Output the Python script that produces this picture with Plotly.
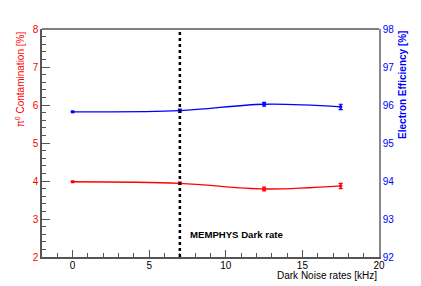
import plotly.graph_objects as go

rates = [0, 7, 12.5, 17.5]
pi0_contam = [3.98, 3.94, 3.79, 3.87]
pi0_err = [0.01, 0.03, 0.05, 0.07]
elec_eff = [95.82, 95.85, 96.02, 95.95]
elec_err = [0.01, 0.04, 0.05, 0.07]
memphys_rate = 7

FONT = "Liberation Sans, Arial, Helvetica, sans-serif"

fig = go.Figure()
fig.add_trace(go.Scatter(
    x=rates, y=pi0_contam, mode="lines+markers",
    line=dict(color="#ff0000", width=1.3, shape="spline"),
    marker=dict(symbol="square", size=3, color="#ff0000"),
    error_y=dict(type="data", array=pi0_err, color="#ff0000", thickness=1.2, width=2),
    yaxis="y", showlegend=False))
fig.add_trace(go.Scatter(
    x=rates, y=elec_eff, mode="lines+markers",
    line=dict(color="#0000ff", width=1.3, shape="spline"),
    marker=dict(symbol="square", size=3, color="#0000ff"),
    error_y=dict(type="data", array=elec_err, color="#0000ff", thickness=1.2, width=2),
    yaxis="y2", showlegend=False))

fig.add_shape(type="line", x0=memphys_rate, x1=memphys_rate, y0=0, y1=1,
              xref="x", yref="paper", line=dict(color="black", width=2.5, dash="dot"))

fig.add_annotation(x=7.5, y=2.6, xref="x", yref="y", text="<b>MEMPHYS Dark rate</b>",
                   showarrow=False, xanchor="left", yanchor="middle",
                   font=dict(family=FONT, size=9.6, color="black"))

fig.add_annotation(x=-0.065, y=1, xref="paper", yref="paper",
                   text="π<sup>0</sup> Contamination [%]", textangle=-90,
                   showarrow=False, xanchor="center", yanchor="top",
                   font=dict(family=FONT, size=10, color="#ff0000"))
fig.add_annotation(x=1.068, y=1, xref="paper", yref="paper",
                   text="<b>Electron Efficiency [%]</b>", textangle=-90,
                   showarrow=False, xanchor="center", yanchor="top",
                   font=dict(family=FONT, size=10, color="#0000ff"))
fig.add_annotation(x=1, y=-0.08, xref="paper", yref="paper",
                   text="Dark Noise rates [kHz]",
                   showarrow=False, xanchor="right", yanchor="middle",
                   font=dict(family=FONT, size=10, color="black"))

# page body adds an 8px offset; compensate so the plot area lands at 42..379 x 29..257
fig.update_layout(
    width=413, height=278,
    margin=dict(l=34, r=42, t=21, b=29, autoexpand=False),
    paper_bgcolor="white", plot_bgcolor="white",
    font=dict(family=FONT, size=10),
    xaxis=dict(range=[-2, 20], dtick=5, tick0=0, ticks="inside", ticklen=7,
               tickcolor="#555", showline=True, linecolor="#555", linewidth=1.5,
               mirror=False, showgrid=False, zeroline=False, automargin=False,
               ticklabelstandoff=-2,
               tickfont=dict(color="black", size=10),
               minor=dict(dtick=1, ticks="inside", ticklen=4, tickcolor="#555")),
    yaxis=dict(range=[2, 8], dtick=1, ticks="inside", ticklen=8,
               tickcolor="#555", showline=True, linecolor="#555", linewidth=1.5,
               showgrid=False, zeroline=False, automargin=False,
               tickfont=dict(color="#ff0000", size=10),
               minor=dict(dtick=0.2, ticks="inside", ticklen=4, tickcolor="#555")),
    yaxis2=dict(range=[92, 98], dtick=1, overlaying="y", side="right",
                ticks="", showline=True, linecolor="#888", linewidth=1.5,
                showgrid=False, zeroline=False, automargin=False,
                tickfont=dict(color="#0000ff", size=10)),
)
fig.add_shape(type="line", x0=0, x1=1, y0=1, y1=1, xref="paper", yref="paper",
              line=dict(color="black", width=1))

fig.write_html("out.html")
